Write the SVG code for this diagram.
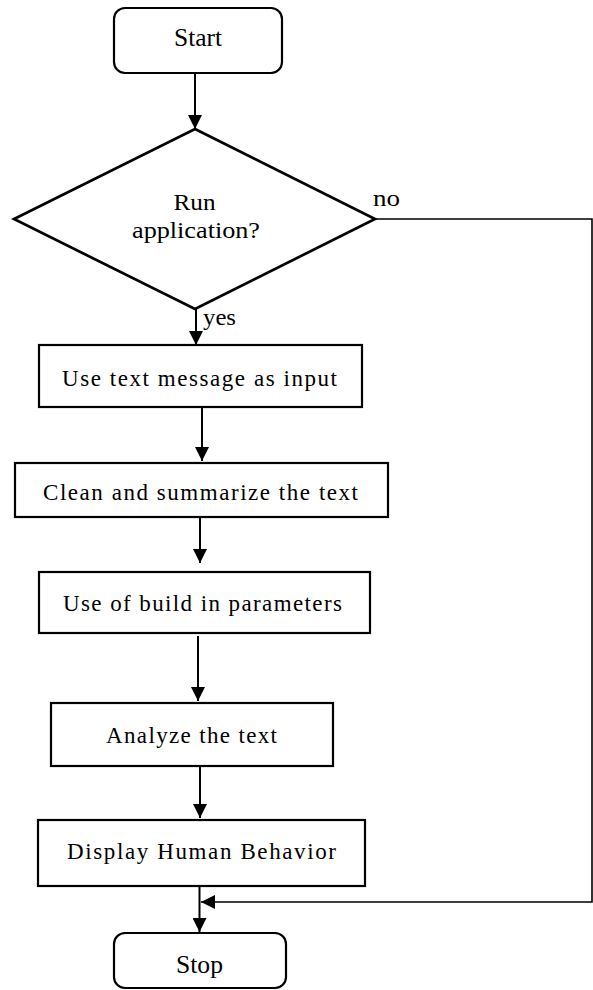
<svg xmlns="http://www.w3.org/2000/svg" width="593" height="990" viewBox="0 0 593 990">
<defs>
<style>
.box{fill:#fff;stroke:#000;stroke-width:2.2}
.dia{fill:#fff;stroke:#000;stroke-width:2.7}
.ln{fill:none;stroke:#000;stroke-width:2}
.thin{fill:none;stroke:#000;stroke-width:1.6}
text{font-family:"Liberation Serif","Times New Roman",serif;font-size:23px;fill:#000}
.big{font-size:25px}
.mid{font-size:24px}
.c{text-anchor:middle}
</style>
<marker id="ar" viewBox="0 0 12 12" refX="12" refY="6" markerWidth="14" markerHeight="14" orient="auto" markerUnits="userSpaceOnUse">
<path d="M0,0 L12,6 L0,12 Z" fill="#000"/>
</marker>
</defs>
<rect width="593" height="990" fill="#fff"/>
<g id="start">
<rect class="box" x="114" y="8" width="168" height="65" rx="11"/>
<text class="c big" x="198" y="46" textLength="48" lengthAdjust="spacingAndGlyphs">Start</text>
</g>
<g id="decision">
<polygon class="dia" points="195,129 375,219 195,309 14,219"/>
<text class="c mid" x="194.5" y="210" textLength="42" lengthAdjust="spacingAndGlyphs">Run</text>
<text class="c mid" x="196" y="238" textLength="128" lengthAdjust="spacingAndGlyphs">application?</text>
</g>
<g id="input">
<rect class="box" x="39" y="345" width="323" height="62"/>
<text x="62" y="386" textLength="275" lengthAdjust="spacing">Use text message as input</text>
</g>
<g id="clean">
<rect class="box" x="15" y="463" width="373" height="54"/>
<text x="43" y="500" textLength="315" lengthAdjust="spacing">Clean and summarize  the text</text>
</g>
<g id="params">
<rect class="box" x="39" y="572" width="331" height="61"/>
<text x="63" y="611" textLength="279" lengthAdjust="spacing">Use of build in parameters</text>
</g>
<g id="analyze">
<rect class="box" x="51" y="703" width="282" height="63"/>
<text x="106" y="743" textLength="171" lengthAdjust="spacing">Analyze the text</text>
</g>
<g id="display">
<rect class="box" x="38" y="820" width="327" height="66"/>
<text x="67" y="859" textLength="269" lengthAdjust="spacing">Display Human Behavior</text>
</g>
<g id="stop">
<rect class="box" x="114" y="933" width="172" height="55" rx="11"/>
<text class="c big" x="199.5" y="973" textLength="47" lengthAdjust="spacingAndGlyphs">Stop</text>
</g>
<g id="connectors">
<line class="ln" x1="195" y1="73" x2="195" y2="129" marker-end="url(#ar)"/>
<line class="ln" x1="196" y1="309" x2="196" y2="345" marker-end="url(#ar)"/>
<line class="ln" x1="202" y1="408" x2="202" y2="461" marker-end="url(#ar)"/>
<line class="ln" x1="200" y1="518" x2="200" y2="563" marker-end="url(#ar)"/>
<line class="ln" x1="198" y1="636" x2="198" y2="701" marker-end="url(#ar)"/>
<line class="ln" x1="200" y1="767" x2="200" y2="818" marker-end="url(#ar)"/>
<line class="ln" x1="199.5" y1="887" x2="199.5" y2="932" marker-end="url(#ar)"/>
<polyline class="thin" points="375,219 592,219 592,902 201,902" marker-end="url(#ar)"/>
<text class="mid" x="373" y="206" textLength="27" lengthAdjust="spacingAndGlyphs">no</text>
<text class="mid" x="203" y="325" textLength="33" lengthAdjust="spacingAndGlyphs">yes</text>
</g>
</svg>
